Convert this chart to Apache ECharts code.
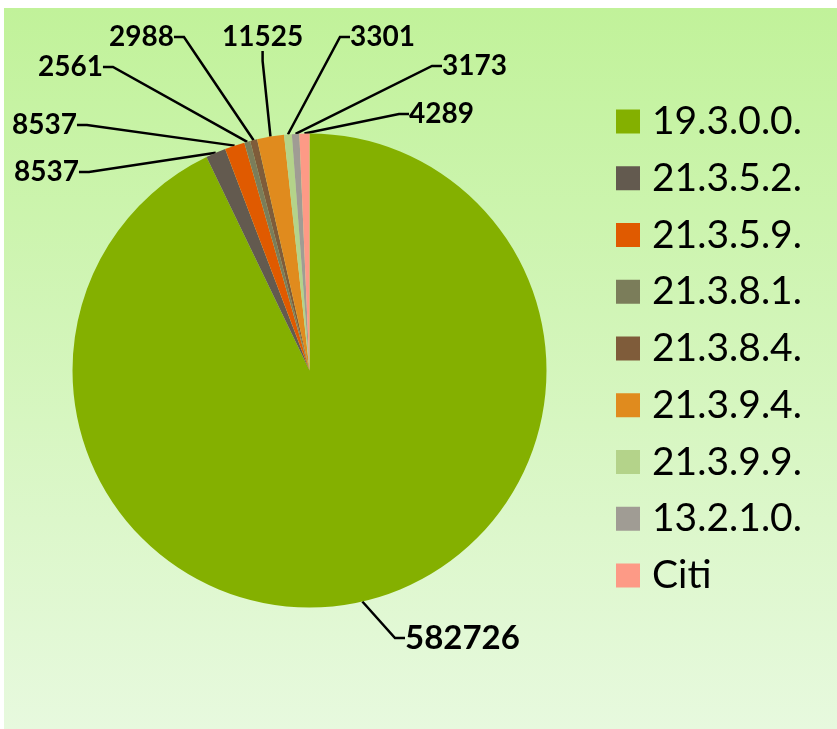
<!DOCTYPE html>
<html>
<head>
<meta charset="utf-8">
<script src="https://cdn.jsdelivr.net/npm/echarts@6/dist/echarts.min.js"></script>
<style>
  html, body { margin: 0; padding: 0; background: #fff; }
  #chart { width: 837px; height: 729px; }
</style>
</head>
<body>
<div id="chart"></div>
<script>
// categories and values
const categories = ["19.3.0.0.", "21.3.5.2.", "21.3.5.9.", "21.3.8.1.", "21.3.8.4.", "21.3.9.4.", "21.3.9.9.", "13.2.1.0.", "Citi"];
const values = [582726, 8537, 8537, 2561, 2988, 11525, 3301, 3173, 4289];
const colors = ["#84b000", "#635a4f", "#e05a00", "#7b7d5a", "#7f5c3a", "#e08b1e", "#b4d38a", "#a09c94", "#fd9a86"];

// label anchor (left x, middle y) per slice
const labelPos = [[405, 638], [14, 172], [12, 125], [38, 67], [109, 37], [222, 37], [350, 37], [442, 66], [409, 114]];

const chart = echarts.init(document.getElementById("chart"));
chart.setOption({
    backgroundColor: "#ffffff",
    animation: false,
    graphic: [{
        type: "rect",
        shape: { x: 4, y: 8, width: 833, height: 721 },
        style: {
            fill: new echarts.graphic.LinearGradient(0, 0, 0, 1, [
                { offset: 0, color: "#c1f29a" },
                { offset: 1, color: "#e7f9de" }
            ])
        },
        z: -1,
        silent: true
    }],
    legend: {
        orient: "vertical",
        left: 616,
        top: 102,
        padding: 0,
        itemWidth: 24,
        itemHeight: 24,
        itemGap: 17.75,
        icon: "rect",
        data: categories,
        textStyle: {
            fontFamily: "Lato",
            fontSize: 39,
            lineHeight: 38,
            color: "#000",
            padding: [0, 0, 0, 7]
        }
    },
    series: [{
        type: "pie",
        center: [309.5, 370.5],
        radius: 237,
        startAngle: 90,
        clockwise: true,
        data: categories.map((name, i) => ({
            name: name,
            value: values[i],
            itemStyle: { color: colors[i] },
            label: i === 0 ? { fontSize: 33 } : undefined
        })),
        label: {
            show: true,
            position: "outside",
            formatter: "{c}",
            fontFamily: "Lato",
            fontWeight: "bold",
            fontSize: 28,
            color: "#000",
            overflow: "none"
        },
        labelLine: {
            show: true,
            length: 10,
            length2: 10,
            lineStyle: { color: "#000", width: 2.5 }
        },
        labelLayout: function (params) {
            const p = labelPos[params.dataIndex];
            return { x: p[0], y: p[1], align: "left", verticalAlign: "middle" };
        },
        emphasis: { disabled: true }
    }]
});
</script>
</body>
</html>
